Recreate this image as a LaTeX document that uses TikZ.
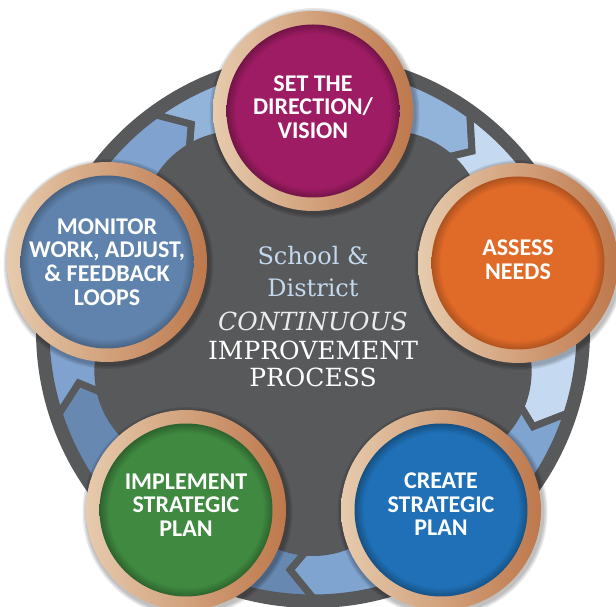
\documentclass[tikz,border=0pt]{standalone}
\usepackage{fontspec}
\newfontfamily\carlito{Carlito}
\newfontfamily\slab{DejaVu Serif}
\definecolor{dgray}{HTML}{58595B}
\definecolor{bandA}{HTML}{93B4DA}
\definecolor{bandB}{HTML}{C5DAF0}
\definecolor{bandC}{HTML}{80A4D0}
\definecolor{bandD}{HTML}{6788B1}
\definecolor{bandE}{HTML}{7FA2CE}
\definecolor{ringL}{HTML}{E6CBAD}
\definecolor{ringR}{HTML}{BE784C}
\definecolor{cSET}{HTML}{9E1C63}
\definecolor{cASS}{HTML}{E06A28}
\definecolor{cCRE}{HTML}{1F70B6}
\definecolor{cIMP}{HTML}{3F8940}
\definecolor{cMON}{HTML}{6083AD}
\definecolor{ltblue}{HTML}{C4D8EE}
\pgfdeclareradialshading{shSET}{\pgfpoint{0bp}{0bp}}{color(0bp)=(cSET); color(22.3bp)=(cSET); color(25bp)=(cSET!72!black); color(50bp)=(cSET!72!black)}
\pgfdeclareradialshading{shASS}{\pgfpoint{0bp}{0bp}}{color(0bp)=(cASS); color(22.3bp)=(cASS); color(25bp)=(cASS!78!black); color(50bp)=(cASS!78!black)}
\pgfdeclareradialshading{shCRE}{\pgfpoint{0bp}{0bp}}{color(0bp)=(cCRE); color(22.3bp)=(cCRE); color(25bp)=(cCRE!72!black); color(50bp)=(cCRE!72!black)}
\pgfdeclareradialshading{shIMP}{\pgfpoint{0bp}{0bp}}{color(0bp)=(cIMP); color(22.3bp)=(cIMP); color(25bp)=(cIMP!72!black); color(50bp)=(cIMP!72!black)}
\pgfdeclareradialshading{shMON}{\pgfpoint{0bp}{0bp}}{color(0bp)=(cMON); color(22.3bp)=(cMON); color(25bp)=(cMON!75!black); color(50bp)=(cMON!75!black)}
\tikzset{
  lbl/.style={text=white, font=\carlito\bfseries\fontsize{24}{23.6}\selectfont, align=center, inner sep=0pt},
  ctitle/.style={font=\slab\fontsize{24}{28}\selectfont, anchor=base, inner sep=0pt},
  ctbig/.style={ctitle, font=\slab\fontsize{25}{28}\selectfont},
  segbox/.style={draw=dgray, line width=7pt, line join=miter},
}
\begin{document}
\begin{tikzpicture}[x=1pt,y=1pt]
\useasboundingbox (0,0) rectangle (616,607);
\coordinate (C) at (313,276);
\fill[dgray] (C) circle (277);
\begin{scope}[shift={(313,276)}]
  \foreach \a/\col in {126/bandA,54/bandB,-18/bandC,-90/bandD,-162/bandE}{
    \pgfmathsetmacro\b{\a-72}
    \filldraw[segbox, fill=\col] (\a:267) arc[start angle=\a, end angle=\b, radius=267]
      -- (\b-5.5:240) -- (\b:212) arc[start angle=\b, end angle=\a, radius=212]
      -- (\a-5.5:240) -- cycle;
  }
  \fill[dgray] (0,0) circle (216);
  \foreach \a in {126,54,-18,-90,-162}{
    \fill[dgray] (\a:130) circle (95);
  }
\end{scope}
% centre title
\node[ctitle, text=ltblue] (t1) at (313,342) {School \&};
\node[ctitle, text=ltblue] (t2) at (313,310.3) {District};
\node[ctbig, text=white!92!black, font=\slab\itshape\fontsize{25}{28}\selectfont] (t3) at (313,276) {CONTINUOUS};
\node[ctbig, text=white] (t4) at (313,247) {IMPROVEMENT};
\node[ctbig, text=white] (t5) at (313,220.3) {PROCESS};
% circles
\foreach \x/\y/\sh in {313/496/shSET, 518/344/shASS, 441/97/shCRE, 186/97/shIMP, 107/345/shMON}{
  \foreach \r in {105,103.5,102}{
    \fill[black, opacity=0.09] (\x+1.5,\y-2) circle (\r);
  }
  \shade[left color=ringL, right color=ringR] (\x,\y) circle (100);
  \shade[shading=\sh] (\x,\y) circle (86.5);
}
\node[lbl] (set) at (313,500) {SET THE\\DIRECTION/\\VISION};
\node[lbl] (assess) at (518,347) {ASSESS\\NEEDS};
\node[lbl] (create) at (441,102.5) {CREATE\\STRATEGIC\\PLAN};
\node[lbl] (implement) at (186,102) {IMPLEMENT\\STRATEGIC\\PLAN};
\node[lbl] (monitor) at (107,345) {MONITOR\\WORK, ADJUST,\\\& FEEDBACK\\LOOPS};
\end{tikzpicture}
\end{document}
